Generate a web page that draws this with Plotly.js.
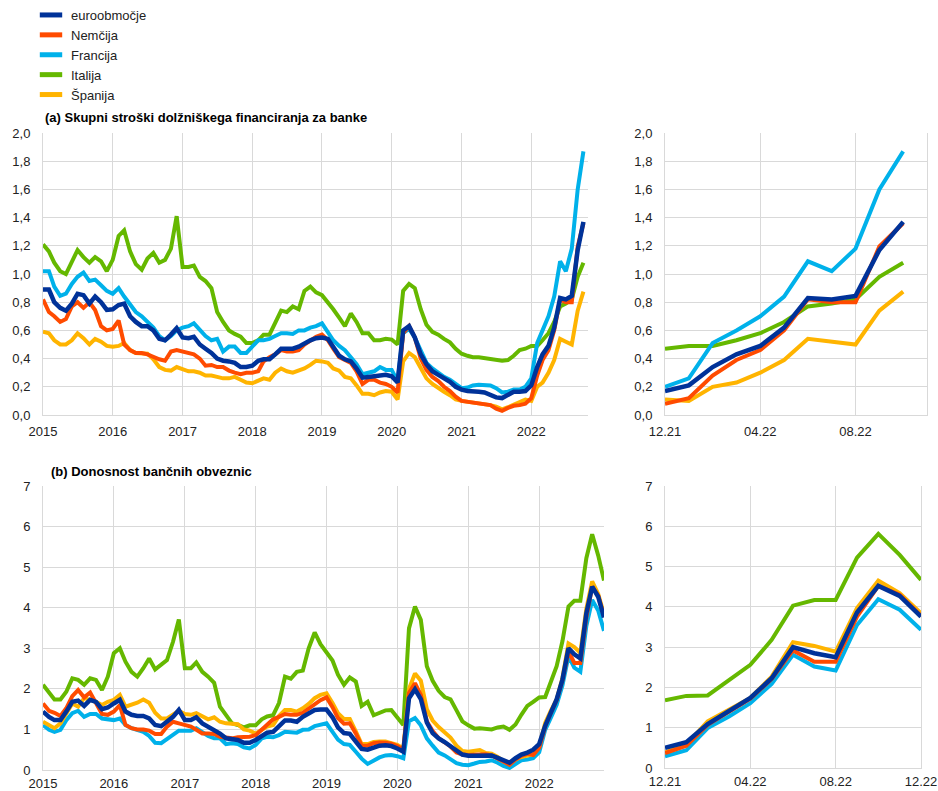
<!DOCTYPE html>
<html>
<head>
<meta charset="utf-8">
<script src="https://cdn.plot.ly/plotly-3.0.1.min.js"></script>
<style>html,body{margin:0;padding:0;background:#fff;}#chart{width:938px;height:791px;}</style>
</head>
<body>
<div id="chart"></div>
<script>
// ---------- DATA ----------
const seriesNames = ['euroobmočje', 'Nemčija', 'Francija', 'Italija', 'Španija'];
const seriesColors = ['#003299', '#FF4B00', '#00B1EA', '#65B800', '#FFB400'];
const startMonth = '2015-01';
const zoomStart = '2021-12';
const panelTitles = ['(a) Skupni stroški dolžniškega financiranja za banke', '(b) Donosnost bančnih obveznic'];
const zoomTickLabels = ['12.21', '04.22', '08.22', '12.22'];

// (a) total debt financing cost, monthly Jan 2015 - Oct 2022
const ea_a = [0.89,0.89,0.80,0.76,0.74,0.79,0.86,0.85,0.79,0.84,
  0.80,0.745,0.75,0.78,0.79,0.70,0.66,0.63,0.63,0.60,
  0.54,0.53,0.57,0.615,0.55,0.545,0.555,0.50,0.47,0.44,
  0.40,0.385,0.38,0.37,0.34,0.34,0.35,0.385,0.395,0.395,
  0.43,0.47,0.47,0.47,0.485,0.51,0.53,0.545,0.55,0.54,
  0.48,0.42,0.395,0.38,0.33,0.265,0.27,0.275,0.285,0.285,
  0.275,0.23,0.60,0.63,0.55,0.43,0.36,0.31,0.285,0.26,
  0.235,0.20,0.18,0.17,0.17,0.165,0.16,0.145,0.125,0.12,
  0.145,0.165,0.165,0.17,0.21,0.34,0.43,0.49,0.62,0.83,
  0.82,0.845,1.17,1.37];
const de_a = [0.82,0.73,0.70,0.66,0.68,0.77,0.80,0.76,0.80,0.745,
  0.63,0.60,0.61,0.67,0.50,0.46,0.44,0.44,0.43,0.41,
  0.395,0.385,0.45,0.46,0.45,0.44,0.43,0.40,0.35,0.355,
  0.34,0.34,0.315,0.30,0.29,0.30,0.30,0.31,0.38,0.41,
  0.43,0.46,0.45,0.45,0.46,0.50,0.53,0.555,0.57,0.53,
  0.47,0.41,0.39,0.37,0.31,0.22,0.25,0.25,0.23,0.22,
  0.20,0.16,0.58,0.63,0.55,0.40,0.32,0.27,0.24,0.20,
  0.17,0.13,0.10,0.095,0.09,0.083,0.08,0.07,0.045,0.03,
  0.05,0.065,0.07,0.08,0.12,0.28,0.39,0.46,0.60,0.82,
  0.80,0.80,1.195,1.36];
const fr_a = [1.02,1.02,0.91,0.845,0.86,0.93,0.98,1.01,0.95,0.96,
  0.92,0.88,0.86,0.90,0.84,0.78,0.73,0.70,0.66,0.62,
  0.56,0.53,0.56,0.60,0.62,0.63,0.65,0.60,0.56,0.53,
  0.54,0.45,0.485,0.485,0.44,0.44,0.49,0.53,0.53,0.54,
  0.56,0.58,0.58,0.575,0.60,0.60,0.62,0.63,0.65,0.58,
  0.53,0.49,0.46,0.41,0.36,0.29,0.30,0.31,0.34,0.32,
  0.32,0.24,0.58,0.61,0.55,0.45,0.37,0.33,0.30,0.27,
  0.25,0.22,0.19,0.195,0.21,0.215,0.21,0.21,0.19,0.16,
  0.165,0.18,0.18,0.20,0.26,0.51,0.60,0.70,0.84,1.09,
  1.02,1.18,1.60,1.87];
const it_a = [1.21,1.16,1.08,1.02,1.00,1.09,1.17,1.12,1.08,1.12,
  1.09,1.02,1.10,1.27,1.31,1.16,1.07,1.03,1.11,1.15,
  1.08,1.10,1.18,1.41,1.05,1.05,1.06,0.98,0.95,0.90,
  0.73,0.66,0.60,0.575,0.556,0.51,0.51,0.53,0.57,0.57,
  0.65,0.74,0.73,0.77,0.75,0.88,0.91,0.87,0.85,0.80,
  0.75,0.69,0.63,0.72,0.66,0.58,0.58,0.53,0.53,0.54,
  0.535,0.50,0.88,0.93,0.90,0.75,0.64,0.59,0.57,0.54,
  0.515,0.47,0.435,0.42,0.41,0.41,0.405,0.40,0.395,0.385,
  0.39,0.42,0.46,0.47,0.49,0.49,0.53,0.58,0.66,0.77,
  0.79,0.82,0.98,1.08];
const es_a = [0.59,0.58,0.53,0.50,0.50,0.53,0.58,0.545,0.50,0.54,
  0.52,0.49,0.485,0.49,0.51,0.46,0.44,0.44,0.435,0.395,
  0.34,0.32,0.315,0.34,0.325,0.31,0.31,0.30,0.28,0.28,
  0.27,0.26,0.26,0.27,0.25,0.23,0.225,0.245,0.26,0.25,
  0.30,0.33,0.31,0.30,0.315,0.33,0.355,0.385,0.38,0.37,
  0.33,0.315,0.27,0.26,0.21,0.15,0.15,0.14,0.16,0.17,
  0.165,0.11,0.38,0.44,0.41,0.33,0.26,0.22,0.19,0.165,
  0.14,0.11,0.10,0.095,0.085,0.085,0.075,0.07,0.06,0.04,
  0.055,0.075,0.095,0.11,0.10,0.20,0.23,0.30,0.39,0.54,
  0.52,0.50,0.74,0.875];

// (b) bank bond yields, monthly Jan 2015 - Dec 2022
const ea_b = [1.44,1.31,1.23,1.23,1.44,1.68,1.71,1.58,1.73,1.68,
  1.50,1.54,1.64,1.73,1.44,1.36,1.33,1.33,1.27,1.11,
  1.08,1.19,1.31,1.48,1.23,1.23,1.30,1.15,1.07,1.00,
  0.90,0.78,0.76,0.74,0.67,0.67,0.74,0.84,0.92,0.94,
  1.07,1.22,1.22,1.19,1.31,1.40,1.48,1.49,1.49,1.30,
  1.05,0.91,0.89,0.70,0.52,0.50,0.55,0.60,0.61,0.59,
  0.53,0.45,1.77,1.99,1.75,1.17,0.91,0.78,0.69,0.60,
  0.48,0.38,0.35,0.35,0.35,0.37,0.36,0.30,0.24,0.18,
  0.29,0.38,0.43,0.50,0.64,1.09,1.40,1.74,2.23,3.00,
  2.85,2.75,3.86,4.52,4.27,3.76];
const de_b = [1.64,1.46,1.41,1.33,1.52,1.82,1.97,1.79,1.91,1.66,
  1.38,1.36,1.44,1.60,1.11,1.03,1.00,1.00,0.97,0.89,
  0.89,1.07,1.19,1.15,1.11,1.07,0.99,0.90,0.90,0.89,
  0.82,0.81,0.78,0.81,0.82,0.82,0.86,1.00,1.13,1.25,
  1.31,1.38,1.36,1.36,1.41,1.52,1.64,1.72,1.79,1.55,
  1.28,1.14,1.15,0.90,0.60,0.60,0.66,0.68,0.67,0.65,
  0.59,0.50,1.90,2.14,1.85,1.20,0.96,0.78,0.68,0.58,
  0.43,0.38,0.37,0.37,0.38,0.39,0.36,0.28,0.20,0.13,
  0.26,0.35,0.40,0.37,0.55,1.07,1.40,1.72,2.21,2.92,
  2.64,2.64,3.76,4.52,4.30,3.78];
const fr_b = [1.11,0.99,0.94,0.99,1.23,1.40,1.46,1.31,1.38,1.38,
  1.27,1.25,1.23,1.27,1.11,1.03,0.99,0.94,0.84,0.67,
  0.66,0.76,0.86,0.97,0.97,0.97,1.03,0.92,0.84,0.78,
  0.78,0.64,0.66,0.64,0.56,0.53,0.62,0.78,0.82,0.81,
  0.86,0.94,0.94,0.92,0.99,1.00,1.08,1.12,1.15,0.94,
  0.75,0.64,0.62,0.45,0.28,0.15,0.24,0.31,0.36,0.37,
  0.34,0.29,1.20,1.28,1.10,0.78,0.60,0.43,0.36,0.28,
  0.17,0.13,0.12,0.16,0.20,0.21,0.24,0.18,0.10,0.05,
  0.16,0.24,0.26,0.29,0.44,0.99,1.28,1.61,2.09,2.81,
  2.52,2.42,3.55,4.19,3.93,3.43];
const it_b = [2.10,1.89,1.74,1.74,1.93,2.26,2.22,2.10,2.26,2.22,
  1.97,2.30,2.88,3.00,2.67,2.42,2.30,2.51,2.75,2.48,
  2.59,2.71,3.16,3.71,2.51,2.51,2.65,2.42,2.30,2.15,
  1.56,1.36,1.15,1.11,1.05,1.10,1.10,1.25,1.32,1.35,
  1.65,2.30,2.25,2.42,2.45,3.00,3.39,3.10,2.88,2.70,
  2.35,2.10,2.28,2.18,1.58,1.68,1.35,1.40,1.47,1.48,
  1.30,1.11,3.49,4.03,3.70,2.56,2.20,1.95,1.80,1.74,
  1.47,1.20,1.10,1.02,1.03,1.02,1.00,1.05,1.07,0.99,
  1.12,1.36,1.58,1.68,1.79,1.80,2.19,2.56,3.18,4.03,
  4.17,4.17,5.22,5.81,5.29,4.67];
const es_b = [1.19,1.11,1.03,1.15,1.40,1.64,1.56,1.77,1.73,1.68,
  1.60,1.68,1.73,1.85,1.56,1.60,1.66,1.74,1.66,1.41,
  1.27,1.27,1.38,1.46,1.38,1.36,1.40,1.31,1.25,1.30,
  1.19,1.15,1.15,1.13,1.00,0.97,0.90,1.00,1.07,1.11,
  1.33,1.48,1.48,1.44,1.52,1.63,1.77,1.85,1.89,1.65,
  1.40,1.26,1.26,0.95,0.64,0.64,0.69,0.70,0.70,0.66,
  0.62,0.53,2.00,2.38,2.20,1.50,1.22,1.06,0.94,0.80,
  0.60,0.47,0.45,0.46,0.49,0.42,0.40,0.32,0.22,0.15,
  0.26,0.32,0.36,0.39,0.58,1.16,1.45,1.74,2.27,3.12,
  3.03,2.89,3.97,4.65,4.34,3.84];

// ---------- BUILD ----------
const FONT = '"Liberation Sans", Arial, sans-serif';
const GRID = '#d9d9d9';
const TXT = '#222222';

function months(n) {
  const [y0, m0] = startMonth.split('-').map(Number);
  const out = [];
  for (let i = 0; i < n; i++) {
    const t = (m0 - 1) + i;
    const y = y0 + Math.floor(t / 12), m = t % 12 + 1;
    out.push(y + '-' + String(m).padStart(2, '0') + '-01');
  }
  return out;
}
function shortLabel(d) { return d.slice(5, 7) + '.' + d.slice(2, 4); }

const datesA = months(ea_a.length);
const datesB = months(ea_b.length);
const zA = datesA.indexOf(zoomStart + '-01');
const zB = datesB.indexOf(zoomStart + '-01');

const seriesA = [ea_a, de_a, fr_a, it_a, es_a];
const seriesB = [ea_b, de_b, fr_b, it_b, es_b];
const drawOrder = [3, 2, 4, 1, 0];

const traces = [];
function addPanel(series, dates, xa, ya, sliceFrom) {
  drawOrder.forEach(k => {
    const xs = sliceFrom == null ? dates : dates.slice(sliceFrom).map(shortLabel);
    const ys = sliceFrom == null ? series[k] : series[k].slice(sliceFrom);
    traces.push({
      type: 'scatter', mode: 'lines', x: xs, y: ys, xaxis: xa, yaxis: ya,
      name: seriesNames[k], showlegend: false, hoverinfo: 'skip',
      line: {color: seriesColors[k], width: k === 0 ? 4.5 : 4}
    });
  });
}
addPanel(seriesA, datesA, 'x', 'y', null);
addPanel(seriesA, datesA, 'x2', 'y2', zA);
addPanel(seriesB, datesB, 'x3', 'y3', null);
addPanel(seriesB, datesB, 'x4', 'y4', zB);

// legend entries
seriesNames.forEach((nm, k) => {
  traces.push({
    type: 'scatter', mode: 'markers', x: [null], y: [null], xaxis: 'x', yaxis: 'y',
    name: nm, showlegend: true, hoverinfo: 'skip',
    marker: {symbol: 'line-ew', size: 16, color: seriesColors[k], line: {width: 5, color: seriesColors[k]}}
  });
});

const W = 938, H = 791;
const px = v => v / W, py = v => (H - v) / H;

const baseX = {showgrid: true, gridcolor: GRID, gridwidth: 1, showline: true, linecolor: GRID, linewidth: 1,
  ticks: '', zeroline: false, tickfont: {size: 13, color: TXT, family: FONT}, ticklabelstandoff: 4, fixedrange: true};
const baseY = {showgrid: true, gridcolor: GRID, gridwidth: 1, showline: true, linecolor: GRID, linewidth: 1,
  ticks: '', zeroline: false, tickfont: {size: 13, color: TXT, family: FONT}, ticklabelstandoff: 9, fixedrange: true};

const layout = {
  width: W, height: H,
  margin: {l: 0, r: 0, t: 0, b: 0},
  paper_bgcolor: '#ffffff', plot_bgcolor: '#ffffff',
  separators: ',.',
  font: {family: FONT, size: 13, color: TXT},
  showlegend: true,
  legend: {x: px(31), y: 1, xanchor: 'left', yanchor: 'top', font: {size: 13, color: TXT, family: FONT},
    bgcolor: 'rgba(0,0,0,0)', tracegroupgap: 0, itemclick: false, itemdoubleclick: false},
  xaxis: Object.assign({}, baseX, {domain: [px(43), px(588)], anchor: 'y', type: 'date',
    range: ['2015-01-01', '2022-10-25'], tick0: '2015-01-01', dtick: 'M12', tickformat: '%Y'}),
  yaxis: Object.assign({}, baseY, {domain: [py(415), py(133)], anchor: 'x', range: [0, 2], dtick: 0.2, tickformat: '.1f'}),
  xaxis2: Object.assign({}, baseX, {domain: [px(665), px(927)], anchor: 'y2', type: 'category',
    range: [0, 11], tickmode: 'array', tickvals: zoomTickLabels.slice(0, 3), ticktext: zoomTickLabels.slice(0, 3)}),
  yaxis2: Object.assign({}, baseY, {domain: [py(415), py(133)], anchor: 'x2', range: [0, 2], dtick: 0.2, tickformat: '.1f', mirror: true}),
  xaxis3: Object.assign({}, baseX, {domain: [px(43), px(604)], anchor: 'y3', type: 'date', ticklabelstandoff: 1,
    range: ['2015-01-01', '2022-12-01'], tick0: '2015-01-01', dtick: 'M12', tickformat: '%Y'}),
  yaxis3: Object.assign({}, baseY, {domain: [py(770), py(486)], anchor: 'x3', range: [0, 7], dtick: 1, tickformat: 'd'}),
  xaxis4: Object.assign({}, baseX, {domain: [px(665), px(921)], anchor: 'y4', type: 'category', ticklabelstandoff: 1,
    range: [0, 12], tickmode: 'array', tickvals: zoomTickLabels, ticktext: zoomTickLabels}),
  yaxis4: Object.assign({}, baseY, {domain: [py(768), py(486)], anchor: 'x4', range: [0, 7], dtick: 1, tickformat: 'd', mirror: true}),
  annotations: [
    {xref: 'paper', yref: 'paper', x: px(43), y: py(118), xanchor: 'left', yanchor: 'middle', showarrow: false,
      text: '<b>' + panelTitles[0] + '</b>', font: {size: 13, color: '#000', family: FONT}},
    {xref: 'paper', yref: 'paper', x: px(49), y: py(471), xanchor: 'left', yanchor: 'middle', showarrow: false,
      text: '<b>' + panelTitles[1] + '</b>', font: {size: 13, color: '#000', family: FONT}}
  ]
};

Plotly.newPlot('chart', traces, layout, {displayModeBar: false, staticPlot: true});
</script>
</body>
</html>
